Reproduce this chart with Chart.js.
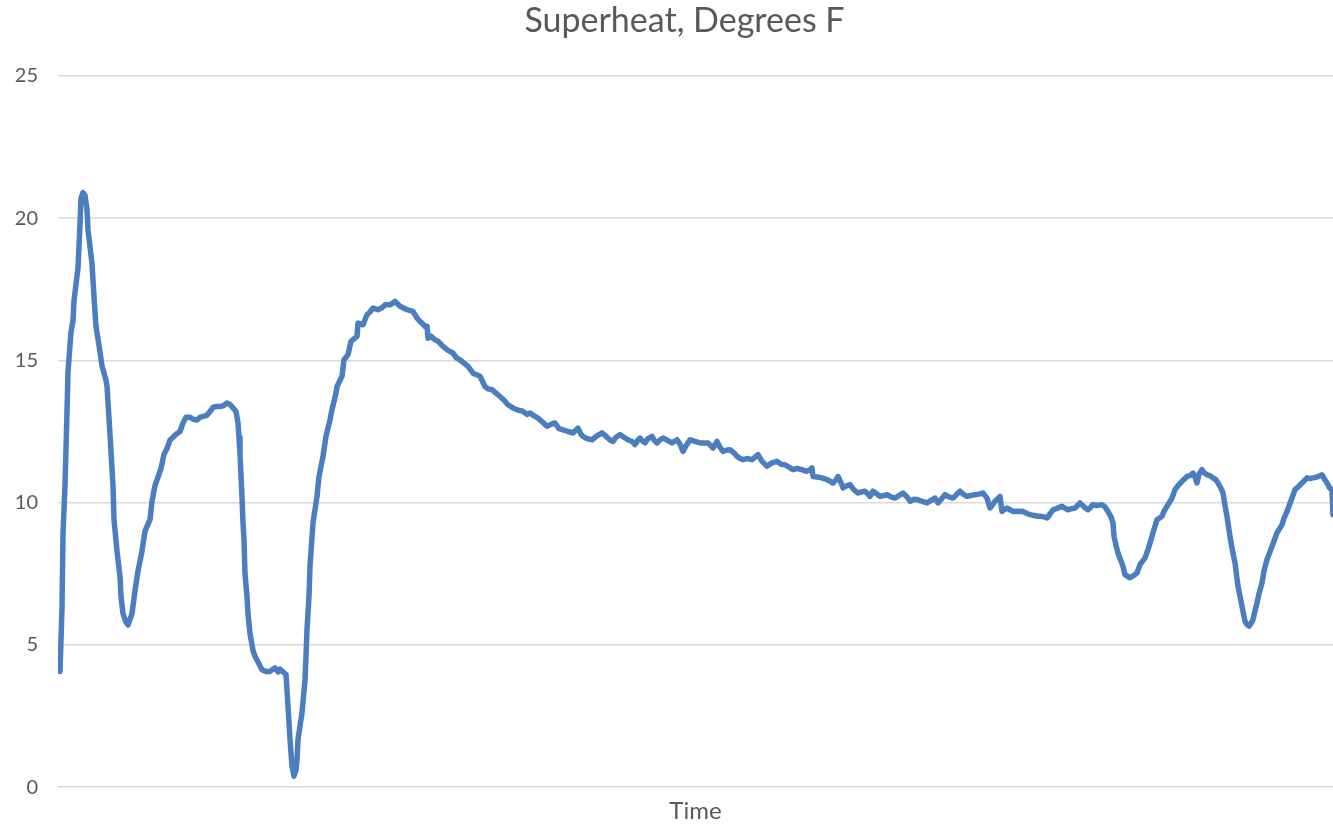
<!DOCTYPE html>
<html>
<head>
<meta charset="utf-8">
<title>Superheat, Degrees F</title>
<script src="https://cdn.jsdelivr.net/npm/chart.js@4"></script>
<style>
  html, body { margin: 0; padding: 0; background: #fff; }
  #wrap { width: 1333px; height: 826px; }
</style>
</head>
<body>
<div id="wrap"><canvas id="superheatChart"></canvas></div>
<script>
// sample number along the log and superheat in degrees F
const sampleNo = [
  2, 4, 5, 7, 9, 10, 13, 15, 16, 20, 22, 23, 25, 27, 29, 30, 32, 34, 35, 37, 38, 42, 44, 48, 49,
  52, 55, 56, 59, 62, 63, 65, 68, 70, 72, 74, 77, 80, 84, 87, 92, 94, 97, 100, 103, 106, 109, 112, 115,
  118, 122, 125, 128, 132, 135, 139, 142, 145, 149, 152, 155, 159, 162, 165, 169, 172, 175, 178, 180, 181,
  182, 184, 185, 186, 187, 189, 190, 192, 195, 197, 200, 204, 208, 212, 215, 217, 220, 222, 225, 228,
  230, 232, 234, 236, 238, 239, 240, 244, 247, 248, 249, 251, 252, 255, 259, 261, 265, 268, 272, 274,
  278, 279, 284, 286, 290, 293, 299, 300, 305, 309, 312, 315, 320, 324, 327, 332, 337, 342, 345, 349,
  355, 359, 362, 364, 367, 369, 370, 373, 377, 380, 385, 390, 395, 398, 402, 406, 410, 415, 418, 422,
  427, 430, 434, 438, 442, 446, 450, 455, 460, 465, 469, 472, 476, 480, 484, 489, 493, 497, 501, 505,
  510, 515, 518, 520, 523, 525, 529, 534, 539, 544, 549, 552, 555, 558, 562, 566, 570, 574, 577, 580,
  582, 585, 587, 590, 594, 596, 599, 602, 605, 609, 614, 619, 622, 625, 628, 632, 637, 642, 646, 650,
  655, 659, 662, 665, 669, 672, 676, 679, 682, 685, 689, 694, 697, 700, 704, 709, 714, 719, 723, 727,
  731, 735, 739, 744, 748, 752, 754, 755, 759, 764, 769, 775, 778, 780, 783, 785, 789, 792, 796, 800,
  804, 807, 810, 812, 815, 819, 822, 826, 829, 833, 837, 841, 845, 849, 852, 856, 860, 864, 869, 873,
  877, 880, 884, 887, 891, 895, 899, 902, 905, 909, 913, 917, 921, 925, 929, 932, 935, 937, 940, 942,
  944, 946, 949, 952, 955, 960, 965, 969, 972, 976, 980, 982, 986, 989, 992, 995, 999, 1004, 1007, 1010,
  1013, 1017, 1022, 1026, 1030, 1033, 1035, 1039, 1044, 1047, 1050, 1053, 1055, 1056, 1058, 1060, 1063,
  1065, 1067, 1070, 1072, 1076, 1079, 1082, 1087, 1090, 1093, 1095, 1099, 1104, 1106, 1109, 1114, 1117,
  1120, 1124, 1129, 1132, 1135, 1137, 1139, 1141, 1144, 1146, 1149, 1152, 1155, 1158, 1160, 1163, 1165,
  1167, 1169, 1172, 1174, 1177, 1180, 1184, 1187, 1189, 1191, 1193, 1195, 1197, 1199, 1201, 1204, 1206,
  1209, 1214, 1219, 1224, 1226, 1229, 1234, 1237, 1240, 1244, 1249, 1252, 1255, 1259, 1264, 1266, 1269,
  1272, 1274, 1275
];
const superheat = [
  4.07, 6.3, 8.9, 10.6, 13.2, 14.6, 16.0, 16.4, 17.1, 18.25, 19.8, 20.7, 20.9, 20.8, 20.3, 19.6, 19.0, 18.4, 17.8, 16.7, 16.2, 15.3, 14.8, 14.3, 14.1,
  12.4, 10.6, 9.4, 8.3, 7.4, 6.7, 6.1, 5.8, 5.7, 5.9, 6.1, 6.9, 7.6, 8.3, 9.0, 9.4, 10.05, 10.6, 10.9, 11.2, 11.7, 11.9, 12.2, 12.3,
  12.4, 12.5, 12.8, 13.0, 13.0, 12.93, 12.9, 13.0, 13.03, 13.07, 13.2, 13.35, 13.38, 13.38, 13.4, 13.5, 13.45, 13.33, 13.2, 12.8, 12.3,
  11.7, 10.2, 9.3, 8.7, 7.5, 6.7, 6.1, 5.4, 4.8, 4.6, 4.4, 4.13, 4.07, 4.07, 4.15, 4.19, 4.05, 4.15, 4.05, 3.96,
  2.85, 1.68, 0.74, 0.39, 0.6, 0.97, 1.68, 2.61, 3.78, 4.6, 5.54, 6.71, 7.76, 9.29, 10.22, 10.92, 11.63, 12.33, 12.91, 13.27,
  13.85, 14.08, 14.44, 15.02, 15.2, 15.67, 15.84, 16.31, 16.25, 16.6, 16.7, 16.84, 16.78, 16.85, 16.95, 16.95, 17.07, 16.9, 16.85, 16.78,
  16.72, 16.49, 16.37, 16.31, 16.19, 16.2, 15.78, 15.85, 15.72, 15.67, 15.49, 15.35, 15.26, 15.1, 15.02, 14.9, 14.79, 14.55, 14.5, 14.44,
  14.08, 14.0, 13.97, 13.85, 13.73, 13.6, 13.44, 13.33, 13.25, 13.21, 13.1, 13.15, 13.05, 12.97, 12.85, 12.68, 12.75, 12.8, 12.6, 12.56,
  12.5, 12.45, 12.55, 12.62, 12.4, 12.33, 12.25, 12.21, 12.35, 12.45, 12.3, 12.2, 12.15, 12.3, 12.39, 12.3, 12.21, 12.15, 12.04, 12.2,
  12.27, 12.15, 12.1, 12.25, 12.33, 12.2, 12.1, 12.2, 12.27, 12.2, 12.1, 12.21, 12.05, 11.8, 12.0, 12.21, 12.15, 12.1, 12.1, 12.1,
  11.92, 12.15, 11.95, 11.8, 11.85, 11.86, 11.75, 11.63, 11.55, 11.51, 11.55, 11.51, 11.6, 11.69, 11.45, 11.28, 11.4, 11.45, 11.35, 11.33,
  11.25, 11.16, 11.2, 11.16, 11.1, 11.15, 11.22, 10.92, 10.9, 10.87, 10.81, 10.69, 10.8, 10.92, 10.7, 10.52, 10.6, 10.63, 10.45, 10.34,
  10.38, 10.4, 10.3, 10.22, 10.4, 10.3, 10.22, 10.25, 10.28, 10.2, 10.16, 10.25, 10.34, 10.2, 10.05, 10.12, 10.1, 10.05, 9.99, 10.08,
  10.16, 9.99, 10.15, 10.28, 10.2, 10.16, 10.3, 10.4, 10.3, 10.22, 10.25, 10.28, 10.3, 10.34, 10.16, 9.81, 9.95, 10.05, 10.15, 10.22,
  9.69, 9.75, 9.81, 9.75, 9.69, 9.7, 9.69, 9.62, 9.58, 9.55, 9.52, 9.52, 9.5, 9.46, 9.6, 9.75, 9.8, 9.87, 9.8, 9.75,
  9.78, 9.81, 9.99, 9.85, 9.75, 9.85, 9.93, 9.9, 9.93, 9.85, 9.69, 9.5, 9.29, 8.82, 8.5, 8.23, 7.95, 7.76, 7.47,
  7.4, 7.36, 7.45, 7.53, 7.82, 8.06, 8.35, 8.7, 8.94, 9.4, 9.52, 9.7, 9.87, 10.16, 10.46, 10.6, 10.75, 10.92, 10.95,
  11.04, 10.9, 10.69, 11.0, 11.16, 11.05, 10.98, 10.95, 10.87, 10.8, 10.69, 10.5, 10.34, 9.9, 9.52, 8.82, 8.4, 7.88, 7.06,
  6.36, 5.83, 5.72, 5.66, 5.75, 5.89, 6.2, 6.48, 6.8, 7.18, 7.6, 8.0, 8.46, 8.94, 9.23, 9.45, 9.69, 10.16, 10.46,
  10.55, 10.69, 10.87, 10.85, 10.87, 10.9, 10.98, 10.85, 10.69, 10.5, 10.46, 9.58
];
const yTicks = [0, 5, 10, 15, 20, 25];

const textGrey = '#595959';
const fontFace = "Lato, 'Open Sans', sans-serif";

const points = sampleNo.map((t, i) => ({ x: t, y: superheat[i] }));

// the original centres its title over the plot rather than the whole canvas
const titleOverPlot = {
    id: 'titleOverPlot',
    afterLayout(chart) {
        if (chart.titleBlock) chart.titleBlock.left = chart.chartArea.left - 22;
    }
};

new Chart(document.getElementById('superheatChart'), {
    type: 'line',
    data: {
        datasets: [{
            label: 'Superheat',
            data: points,
            borderColor: '#4a7ebf',
            borderWidth: 5.5,
            borderJoinStyle: 'round',
            borderCapStyle: 'round',
            pointRadius: 0,
            tension: 0,
            fill: false
        }]
    },
    options: {
        responsive: true,
        maintainAspectRatio: false,
        animation: false,
        layout: { padding: { left: 0, right: 0, top: 0, bottom: 0 } },
        plugins: {
            legend: { display: false },
            tooltip: { enabled: false },
            title: {
                display: true,
                text: 'Superheat, Degrees F',
                color: textGrey,
                font: { family: fontFace, size: 34, weight: 'normal' },
                padding: { top: 1, bottom: 34 }
            }
        },
        scales: {
            x: {
                type: 'linear',
                min: 0,
                max: 1275,
                grid: { display: false },
                border: { display: false },
                ticks: { display: false },
                title: {
                    display: true,
                    text: 'Time',
                    color: textGrey,
                    font: { family: fontFace, size: 24 },
                    padding: { top: 2, bottom: 0 }
                }
            },
            y: {
                min: 0,
                max: 25,
                afterBuildTicks: axis => { axis.ticks = yTicks.map(v => ({ value: v })); },
                afterFit: axis => { axis.width = 58; },
                grid: { color: '#d9d9d9', lineWidth: 1.5, drawTicks: false },
                border: { display: false },
                ticks: {
                    color: textGrey,
                    padding: 20,
                    font: { family: fontFace, size: 20 }
                }
            }
        }
    },
    plugins: [titleOverPlot]
});
</script>
</body>
</html>
